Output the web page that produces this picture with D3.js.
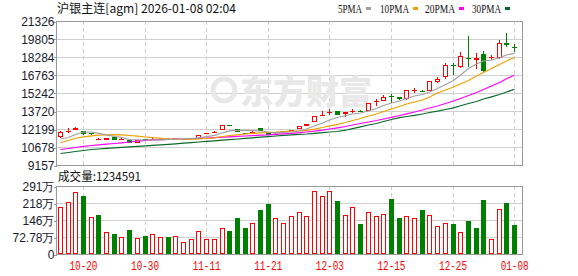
<!DOCTYPE html>
<html>
<head>
<meta charset="utf-8">
<script src="https://cdn.jsdelivr.net/npm/d3@7"></script>
<style>
    body { margin: 0; background: #fff; }
    #chart { width: 578px; height: 276px; }
    text { font-family: "Liberation Sans", Arial, sans-serif; }
</style>
</head>
<body>
<div id="chart"></div>
<script>

// trading days shown
const dates = ["10-15","10-16","10-17","10-20","10-21","10-22","10-23","10-24","10-27","10-28",
    "10-29","10-30","10-31","11-03","11-04","11-05","11-06","11-07","11-10","11-11",
    "11-12","11-13","11-14","11-17","11-18","11-19","11-20","11-21","11-24","11-25",
    "11-26","11-27","11-28","12-01","12-02","12-03","12-04","12-05","12-08","12-09",
    "12-10","12-11","12-12","12-15","12-16","12-17","12-18","12-19","12-22","12-23",
    "12-24","12-25","12-26","12-29","12-30","12-31","01-05","01-06","01-07","01-08"];
const tickDates = ["10-20","10-30","11-11","11-21","12-03","12-15","12-25","01-08"];

const opens = [11498,12030,12114,12030,11886,11310,11244,11498,11295,11244,
    11041,11350,11350,11340,11390,11350,11370,11380,11380,11820,
    11900,12114,12510,12170,11886,11920,12258,11886,11760,11990,
    12090,12225,12452,12765,13390,13590,13720,13441,13730,13740,
    13745,14480,14540,14960,14929,14709,15450,15430,15436,16171,
    16568,17607,17464,18174,18056,18537,18225,18174,19467,19154];
const highs = [12000,12258,12393,12060,11900,11440,11430,11510,11498,11260,
    11280,11380,11498,11420,11420,11430,11440,11440,11700,11900,
    11990,12560,12530,12180,11900,11990,12270,11900,11830,12060,
    12150,12470,12640,13340,13745,13864,13740,13650,13915,13780,
    14390,14734,15072,15131,14940,15510,15638,15460,16250,16568,
    17751,17751,18681,20058,18596,18816,18450,19720,20337,19360];
const lows = [11470,11836,12114,11667,11717,11230,11230,11280,11290,10991,
    11030,11280,11269,11310,11320,11330,11350,11360,11370,11790,
    11880,12100,12420,11950,11760,11900,12040,11700,11740,11970,
    12070,12210,12440,12750,13380,13382,13370,13238,13576,13680,
    13730,14143,14530,14371,14690,14690,15267,15330,15420,16061,
    16400,16762,17330,17464,17244,16906,18030,18150,19104,18730];
const closes = [11970,12060,12258,11751,11776,11340,11414,11295,11380,11041,
    11269,11310,11390,11380,11350,11400,11410,11414,11692,11850,
    11970,12536,12430,11970,11776,11960,12055,11717,11800,12040,
    12130,12452,12621,13323,13420,13620,13382,13636,13760,13700,
    14371,14540,14878,14900,14709,15495,15490,15350,16230,16425,
    17607,17523,18343,18115,18174,17101,18260,19441,19323,19104];

// moving averages as drawn
const ma5 = [11354,11480,11734,11945,11945,11835,11708,11565,11489,11311,
    11286,11269,11286,11286,11328,11354,11379,11387,11455,11556,
    11666,11878,12047,12089,12089,12072,12030,11945,11878,11911,
    11945,12030,12199,12452,12706,12959,13171,13340,13466,13551,
    13720,13931,14185,14396,14565,14776,14988,15115,15326,15622,
    15960,16298,16763,17312,17692,17946,18030,18216,18453,18596];
const ma10 = [11058,11227,11421,11539,11624,11675,11708,11725,11708,11649,
    11590,11523,11463,11413,11370,11354,11337,11328,11354,11396,
    11447,11565,11649,11708,11776,11827,11878,11903,11928,11979,
    12013,12030,12081,12182,12326,12469,12596,12748,12917,13086,
    13297,13466,13678,13889,14100,14312,14481,14650,14903,15241,
    15495,15749,16002,16298,16678,16974,17312,17650,17946,18242];
const ma20 = [10466,10551,10635,10737,10804,10863,10914,10973,11032,11100,
    11168,11227,11269,11303,11328,11354,11370,11387,11404,11438,
    11472,11506,11539,11573,11607,11641,11675,11708,11759,11793,
    11835,11886,11945,12013,12097,12199,12300,12410,12537,12663,
    12790,12917,13044,13188,13340,13483,13635,13804,13973,14143,
    14354,14565,14776,15030,15284,15537,15833,16129,16442,16763];
const ma30 = [10128,10213,10297,10382,10466,10508,10567,10610,10652,10694,
    10737,10779,10821,10863,10906,10948,10999,11049,11100,11151,
    11202,11252,11303,11354,11404,11455,11506,11556,11607,11666,
    11708,11751,11776,11835,11894,11945,11987,12097,12233,12385,
    12537,12664,12833,13002,13154,13255,13357,13467,13593,13703,
    13847,13990,14160,14354,14523,14734,14920,15115,15326,15554];

const volumes = [2012000,2226000,2654000,2483000,1584000,1670000,942000,856000,728000,1027000,
    685000,771000,856000,728000,728000,771000,514000,642000,985000,642000,
    642000,1113000,985000,1541000,1113000,1327000,1884000,2141000,1541000,1327000,
    1627000,1798000,1627000,2684000,2470000,2684000,2269000,1657000,1999000,1284000,
    1785000,1614000,1712000,2355000,1541000,1614000,1528000,1884000,1657000,1186000,
    1314000,1284000,929000,1413000,1113000,2312000,629000,1914000,2183000,1234591];
// 1 = red (up) bar, -1 = green (down) bar
const volDir = [1,1,1,-1,1,-1,1,-1,1,-1,
    1,-1,1,1,-1,1,1,1,1,1,
    1,1,-1,-1,-1,1,-1,-1,1,1,
    1,1,1,1,1,1,-1,1,1,-1,
    1,1,1,-1,-1,1,1,-1,1,1,
    1,-1,1,-1,-1,-1,1,1,-1,-1];

const priceTicks = [9157,10678,12199,13720,15242,16763,18284,19805,21326];
const volTicks = [0,727800,1455600,2183400,2911200];
const volTickLabels = ["0","72.78万","146万","218万","291万"];

const maNames = ["5PMA","10PMA","20PMA","30PMA"];
const maColors = ["#a0a0a0","#f0a000","#ff00ff","#0a6a2a"];

const RED = "#ff0000", GREEN = "#008000";

class KLineChart {

    constructor(parentElement) {
        this.parentElement = parentElement;
    }

    initVis() {
        let vis = this;

        vis.left = 56; vis.right = 522;
        vis.top = 21; vis.bottom = 165;
        vis.vTop = 186; vis.vBottom = 254;

        vis.svg = d3.select("#" + vis.parentElement).append("svg")
            .attr("width", 578)
            .attr("height", 276)
            .style("display", "block");

        vis.x = d3.scaleBand().domain(dates).range([56, 518]);
        vis.y = d3.scaleLinear().domain([priceTicks[0], priceTicks[priceTicks.length - 1]]).range([vis.bottom, vis.top]);
        vis.yv = d3.scaleLinear().domain([0, volTicks[volTicks.length - 1]]).range([vis.vBottom, vis.vTop]);

        vis.cx = d => Math.round(vis.x(d) + vis.x.bandwidth() / 2);

        vis.drawGrid();
        vis.drawCandles();
        vis.drawVolume();
        vis.drawText();
    }

    drawGrid() {
        let vis = this;
        let g = vis.svg.append("g").attr("shape-rendering", "crispEdges");

        // horizontal grid
        g.selectAll(".hgrid").data(priceTicks).enter().append("line")
            .attr("x1", vis.left).attr("x2", vis.right)
            .attr("y1", d => Math.round(vis.y(d)) + 0.5).attr("y2", d => Math.round(vis.y(d)) + 0.5)
            .attr("stroke", "#d0d0d0");
        g.selectAll(".vhgrid").data(volTicks).enter().append("line")
            .attr("x1", vis.left).attr("x2", vis.right)
            .attr("y1", d => Math.round(vis.yv(d)) + 0.5).attr("y2", d => Math.round(vis.yv(d)) + 0.5)
            .attr("stroke", "#d0d0d0");

        // dashed verticals at date ticks
        [[vis.top, vis.bottom], [vis.vTop, vis.vBottom]].forEach(r => {
            g.selectAll(null).data(tickDates).enter().append("line")
                .attr("x1", d => vis.cx(d) + 0.5).attr("x2", d => vis.cx(d) + 0.5)
                .attr("y1", r[0]).attr("y2", r[1])
                .attr("stroke", "#cfcfcf")
                .attr("stroke-dasharray", "4,3");
        });

        // watermark
        let wm = vis.svg.append("g").attr("fill", "#e8e8e8");
        wm.append("circle")
            .attr("cx", 224).attr("cy", 90).attr("r", 11)
            .attr("fill", "none").attr("stroke", "#e8e8e8").attr("stroke-width", 5);
        wm.append("text")
            .attr("x", 240).attr("y", 104)
            .style("font-family", "'Noto Sans CJK SC'")
            .style("font-weight", 900)
            .style("font-size", "33px")
            .text("东方财富");

        // frames
        [[vis.top, vis.bottom], [vis.vTop, vis.vBottom]].forEach(r => {
            g.append("rect")
                .attr("x", vis.left + 0.5).attr("y", r[0] + 0.5)
                .attr("width", vis.right - vis.left).attr("height", r[1] - r[0])
                .attr("fill", "none").attr("stroke", "#999");
        });

        // axes
        vis.yAxis = d3.axisLeft(vis.y).tickValues(priceTicks).tickSize(3).tickSizeOuter(0).tickFormat(d => d);
        vis.vAxis = d3.axisLeft(vis.yv).tickValues(volTicks).tickSize(3).tickSizeOuter(0)
            .tickFormat((d, i) => volTickLabels[i]);
        vis.xAxis = d3.axisBottom(vis.x).tickValues(tickDates).tickSize(0).tickPadding(7);

        let ya = vis.svg.append("g").attr("transform", "translate(" + (vis.left + 0.5) + ",0.5)").call(vis.yAxis);
        let va = vis.svg.append("g").attr("transform", "translate(" + (vis.left + 0.5) + ",0.5)").call(vis.vAxis);
        let xa = vis.svg.append("g").attr("transform", "translate(0.5," + vis.vBottom + ")").call(vis.xAxis);

        [ya, va, xa].forEach(a => {
            a.select(".domain").remove();
            a.selectAll("line").attr("stroke", "#999").attr("shape-rendering", "crispEdges");
            a.selectAll("text").style("font-size", "12px").attr("fill", "#1a1a2a");
        });
        ya.selectAll("text").attr("x", -2);
        va.selectAll("text").attr("x", -2);
        xa.selectAll("text")
            .attr("fill", RED)
            .style("font-family", "'Liberation Mono', monospace")
            .attr("textLength", 28).attr("lengthAdjust", "spacingAndGlyphs");
    }

    drawCandles() {
        let vis = this;
        let g = vis.svg.append("g").attr("shape-rendering", "crispEdges");
        let data = dates.map((d, i) => ({d: d, o: opens[i], h: highs[i], l: lows[i], c: closes[i]}));

        data.forEach(k => {
            let c = vis.cx(k.d);
            let yo = Math.round(vis.y(k.o)), yc = Math.round(vis.y(k.c));
            let yh = Math.round(vis.y(k.h)), yl = Math.round(vis.y(k.l));
            let top = Math.min(yo, yc), bot = Math.max(yo, yc);
            let up = k.c >= k.o;
            let col = up ? RED : GREEN;

            if (up) {
                g.append("line").attr("x1", c + 0.5).attr("x2", c + 0.5).attr("y1", yh).attr("y2", top).attr("stroke", col);
                g.append("line").attr("x1", c + 0.5).attr("x2", c + 0.5).attr("y1", bot).attr("y2", yl).attr("stroke", col);
                if (bot - top < 2) {
                    g.append("line").attr("x1", c - 2).attr("x2", c + 3)
                        .attr("y1", top + 0.5).attr("y2", top + 0.5).attr("stroke", col);
                } else {
                    g.append("rect").attr("x", c - 1.5).attr("y", top + 0.5)
                        .attr("width", 4).attr("height", bot - top - 1)
                        .attr("fill", "#fff").attr("stroke", col);
                }
            } else {
                g.append("line").attr("x1", c + 0.5).attr("x2", c + 0.5).attr("y1", yh).attr("y2", yl).attr("stroke", col);
                g.append("rect").attr("x", c - 2).attr("y", top)
                    .attr("width", 5).attr("height", Math.max(bot - top, 1))
                    .attr("fill", col);
            }
        });

        // moving average lines
        let line = arr => d3.line()
            .x((v, i) => vis.cx(dates[i]) + 0.5)
            .y(v => vis.y(v))(arr);

        [ma30, ma20, ma10, ma5].forEach((arr, j) => {
            vis.svg.append("path")
                .attr("d", line(arr))
                .attr("fill", "none")
                .attr("stroke", maColors[3 - j])
                .attr("stroke-width", 1.2);
        });
    }

    drawVolume() {
        let vis = this;
        let g = vis.svg.append("g").attr("shape-rendering", "crispEdges");

        volumes.forEach((v, i) => {
            let c = vis.cx(dates[i]);
            let t = Math.round(vis.yv(v));
            if (volDir[i] > 0) {
                g.append("rect").attr("x", c - 1.5).attr("y", t + 0.5)
                    .attr("width", 4).attr("height", vis.vBottom - t - 1)
                    .attr("fill", "#fff").attr("stroke", RED);
            } else {
                g.append("rect").attr("x", c - 2).attr("y", t)
                    .attr("width", 5).attr("height", vis.vBottom - t)
                    .attr("fill", GREEN);
            }
        });
    }

    drawText() {
        let vis = this;

        vis.svg.append("text")
            .attr("x", 57).attr("y", 13)
            .style("font-family", "'Noto Sans CJK SC'")
            .style("font-size", "12px")
            .attr("textLength", 179).attr("lengthAdjust", "spacingAndGlyphs")
            .attr("fill", "#111")
            .text("沪银主连[agm] 2026-01-08 02:04");

        vis.svg.append("text")
            .attr("x", 58).attr("y", 181)
            .style("font-family", "'Noto Sans CJK SC'")
            .style("font-size", "12px")
            .attr("textLength", 83).attr("lengthAdjust", "spacingAndGlyphs")
            .attr("fill", "#111")
            .text("成交量:1234591");

        // legend
        let legX = [338, 380, 425, 472];
        let legW = [24, 29, 30, 29];
        maNames.forEach((n, i) => {
            vis.svg.append("text")
                .attr("x", legX[i]).attr("y", 13)
                .style("font-family", "'Liberation Serif', serif")
                .style("font-size", "12px")
                .attr("textLength", legW[i]).attr("lengthAdjust", "spacingAndGlyphs")
                .attr("fill", "#111")
                .text(n);
            vis.svg.append("rect")
                .attr("x", legX[i] + legW[i] + 4).attr("y", 7)
                .attr("width", 5).attr("height", 3)
                .attr("fill", maColors[i]);
        });
    }
}

let chart = new KLineChart("chart");
chart.initVis();

</script>
</body>
</html>
